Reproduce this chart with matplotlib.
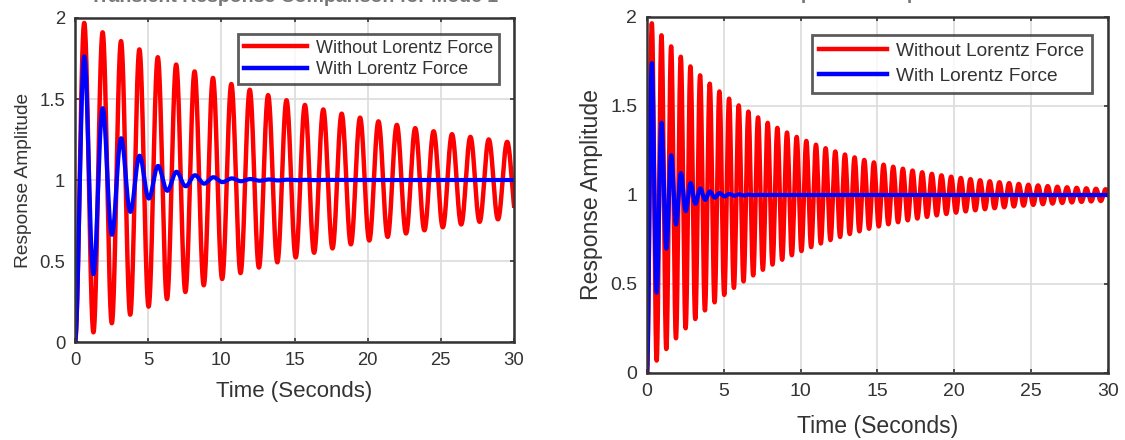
import numpy as np
import matplotlib
matplotlib.use('Agg')
import matplotlib.pyplot as plt

# two modes, values
mode_titles = ['Transient Response Comparison for Mode 1',
               'Transient Response Comparison for Mode 2']
natural_freq = [5.0, 10.0]          # rad/s, from the oscillation period
damping_without = [0.0098, 0.0115]  # from the decay of the red envelope
damping_with = [0.086, 0.095]       # from the decay of the blue envelope
t_end = 30.0
series_labels = ['Without Lorentz Force', 'With Lorentz Force']
series_colors = ['#ff0000', '#0000ff']
x_ticks = [0, 5, 10, 15, 20, 25, 30]
y_ticks = [0, 0.5, 1, 1.5, 2]
y_tick_labels = ['0', '0.5', '1', '1.5', '2']


def step_response(wn, zeta, t):
    # unit step response of wn^2 / (s^2 + 2 zeta wn s + wn^2)
    wd = wn * np.sqrt(1 - zeta ** 2)
    phi = np.arccos(zeta)
    return 1 - np.exp(-zeta * wn * t) / np.sqrt(1 - zeta ** 2) * np.sin(wd * t + phi)


plt.rcParams['font.family'] = ['Liberation Sans', 'DejaVu Sans']
text_col = '#333333'

fig = plt.figure(figsize=(11.25, 4.4), dpi=100)
positions = [[0.0667, 0.2227, 0.3902, 0.7364],
             [0.5751, 0.1523, 0.4098, 0.8091]]
tick_fs = [13.3, 14.0]
xlab_fs = [16.0, 16.6]
ylab_fs = [13.8, 16.6]
leg_fs = [13.0, 13.8]
xlab_pad = [9, 11]
leg_spacing = [0.25, 0.4]
leg_border = [0.3, 0.4]

t = np.linspace(0, t_end, 6000)
for i in range(2):
    ax = fig.add_axes(positions[i])
    y_without = step_response(natural_freq[i], damping_without[i], t)
    y_with = step_response(natural_freq[i], damping_with[i], t)
    ax.plot(t, y_without, color=series_colors[0], lw=3.2, label=series_labels[0])
    ax.plot(t, y_with, color=series_colors[1], lw=3.0, label=series_labels[1])

    ax.set_xlim(0, t_end)
    ax.set_ylim(0, 2)
    ax.set_xticks(x_ticks)
    ax.set_yticks(y_ticks)
    ax.set_yticklabels(y_tick_labels)
    ax.grid(True, color='#dcdcdc', lw=1.2)
    ax.set_axisbelow(True)
    ax.tick_params(direction='in', length=3, width=1.2, colors=text_col,
                   labelsize=tick_fs[i], top=True, right=True, pad=7)
    for s in ax.spines.values():
        s.set_color('#333333')
        s.set_linewidth(1.8)
    ax.set_xlabel('Time (Seconds)', fontsize=xlab_fs[i], color=text_col, labelpad=xlab_pad[i])
    ax.set_ylabel('Response Amplitude', fontsize=ylab_fs[i], color=text_col, labelpad=5)

    leg = ax.legend(loc='upper right', fontsize=leg_fs[i], frameon=True, fancybox=False,
                    handlelength=3.5, handletextpad=0.5, borderpad=leg_border[i],
                    labelspacing=leg_spacing[i], borderaxespad=0.0,
                    bbox_to_anchor=(0.965, 0.95))
    leg.get_frame().set_edgecolor('#333333')
    leg.get_frame().set_linewidth(2.0)
    for txt in leg.get_texts():
        txt.set_color(text_col)
    for ln in leg.get_lines():
        ln.set_linewidth(3.2)

# titles are cut by the top edge in the reference
fig.text(0.066 + 0.39 / 2, 1.0 - 2 / 440, mode_titles[0], ha='center', va='baseline',
         fontsize=14, fontweight='bold', color='#777777')
fig.text(0.575 + 0.41 / 2, 1.0 + 1 / 440, mode_titles[1], ha='center', va='baseline',
         fontsize=14, fontweight='bold', color='#777777')

fig.savefig('out.png', dpi=100, facecolor='white')
